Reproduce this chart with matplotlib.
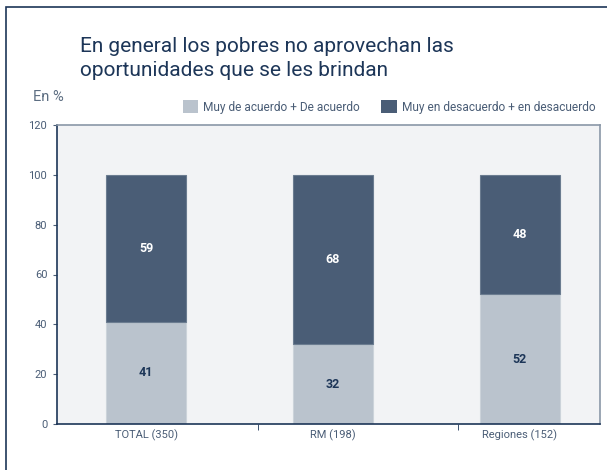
import matplotlib
matplotlib.use("Agg")
import matplotlib.pyplot as plt
from matplotlib.patches import Rectangle, Patch

categories = ["TOTAL (350)", "RM (198)", "Regiones (152)"]
acuerdo = [41, 32, 52]
desacuerdo = [59, 68, 48]
yticks = [0, 20, 40, 60, 80, 100, 120]
series_names = ["Muy de acuerdo + De acuerdo", "Muy en desacuerdo + en desacuerdo"]

plt.rcParams['font.family'] = ['Roboto', 'DejaVu Sans']

c_light = "#bac3cd"
c_dark = "#4a5d76"
c_navy = "#1d3658"
c_tick = "#4a5d76"
c_bg = "#f2f3f5"

fig = plt.figure(figsize=(6.07, 4.70), dpi=100)
fig.patch.set_facecolor("white")

# outer frame
fig.patches.append(Rectangle((6 / 607, -0.1), 1.2, (470 - 7) / 470 + 0.1,
                             transform=fig.transFigure, fill=False,
                             edgecolor=c_navy, linewidth=1.2))

ax = fig.add_axes([57 / 607, 46 / 470, 543 / 607, 299 / 470])
ax.set_facecolor(c_bg)

x = [0, 1, 2]
ax.bar(x, acuerdo, width=0.43, color=c_light, edgecolor="#ccd3da", linewidth=0.8)
ax.bar(x, desacuerdo, bottom=acuerdo, width=0.43, color=c_dark, edgecolor="#6b7c90", linewidth=0.8)

for i in x:
    ax.text(i, acuerdo[i] / 2, str(acuerdo[i]), ha="center", va="center",
            fontsize=9, fontweight="bold", color=c_navy)
    ax.text(i, acuerdo[i] + desacuerdo[i] / 2, str(desacuerdo[i]), ha="center",
            va="center", fontsize=9, fontweight="bold", color="white")

ax.set_xlim(-0.477, 2.43)
ax.set_ylim(0, 120)
ax.set_yticks(yticks)
ax.set_yticklabels([str(v) for v in yticks], fontsize=8, color=c_tick)
ax.set_xticks(x)
ax.set_xticklabels(categories, fontsize=8, color=c_tick)
ax.tick_params(axis="x", length=0, pad=4)
ax.set_xticks([0.60, 1.67], minor=True)
ax.tick_params(axis="x", which="minor", length=4, direction="out", color=c_navy)
ax.tick_params(axis="y", length=3, color=c_tick, pad=4)

ax.spines["left"].set_color(c_navy)
ax.spines["bottom"].set_color(c_navy)
ax.spines["top"].set_color("#8a97a7")
ax.spines["right"].set_color("#8a97a7")
for s in ax.spines.values():
    s.set_linewidth(1.2)

fig.text(80 / 607, 1 - 80 / 470,
         "En general los pobres no aprovechan las\noportunidades que se les brindan",
         fontsize=15, color=c_navy, ha="left", va="bottom", linespacing=1.3)
fig.text(33 / 607, 1 - 97 / 470, "En %", fontsize=10.5, color="#5d6e82", ha="left", va="center")

handles = [Patch(facecolor=c_light, edgecolor="none"), Patch(facecolor=c_dark, edgecolor="none")]
fig.legend(handles, series_names, loc="center right", bbox_to_anchor=(600 / 607, 1 - 107 / 470),
           ncol=2, frameon=False, fontsize=8.6, labelcolor=c_tick, handlelength=1.3,
           handleheight=1.3, handletextpad=0.4, columnspacing=1.8, borderaxespad=0)

fig.savefig("out.png", dpi=100, facecolor="white")
